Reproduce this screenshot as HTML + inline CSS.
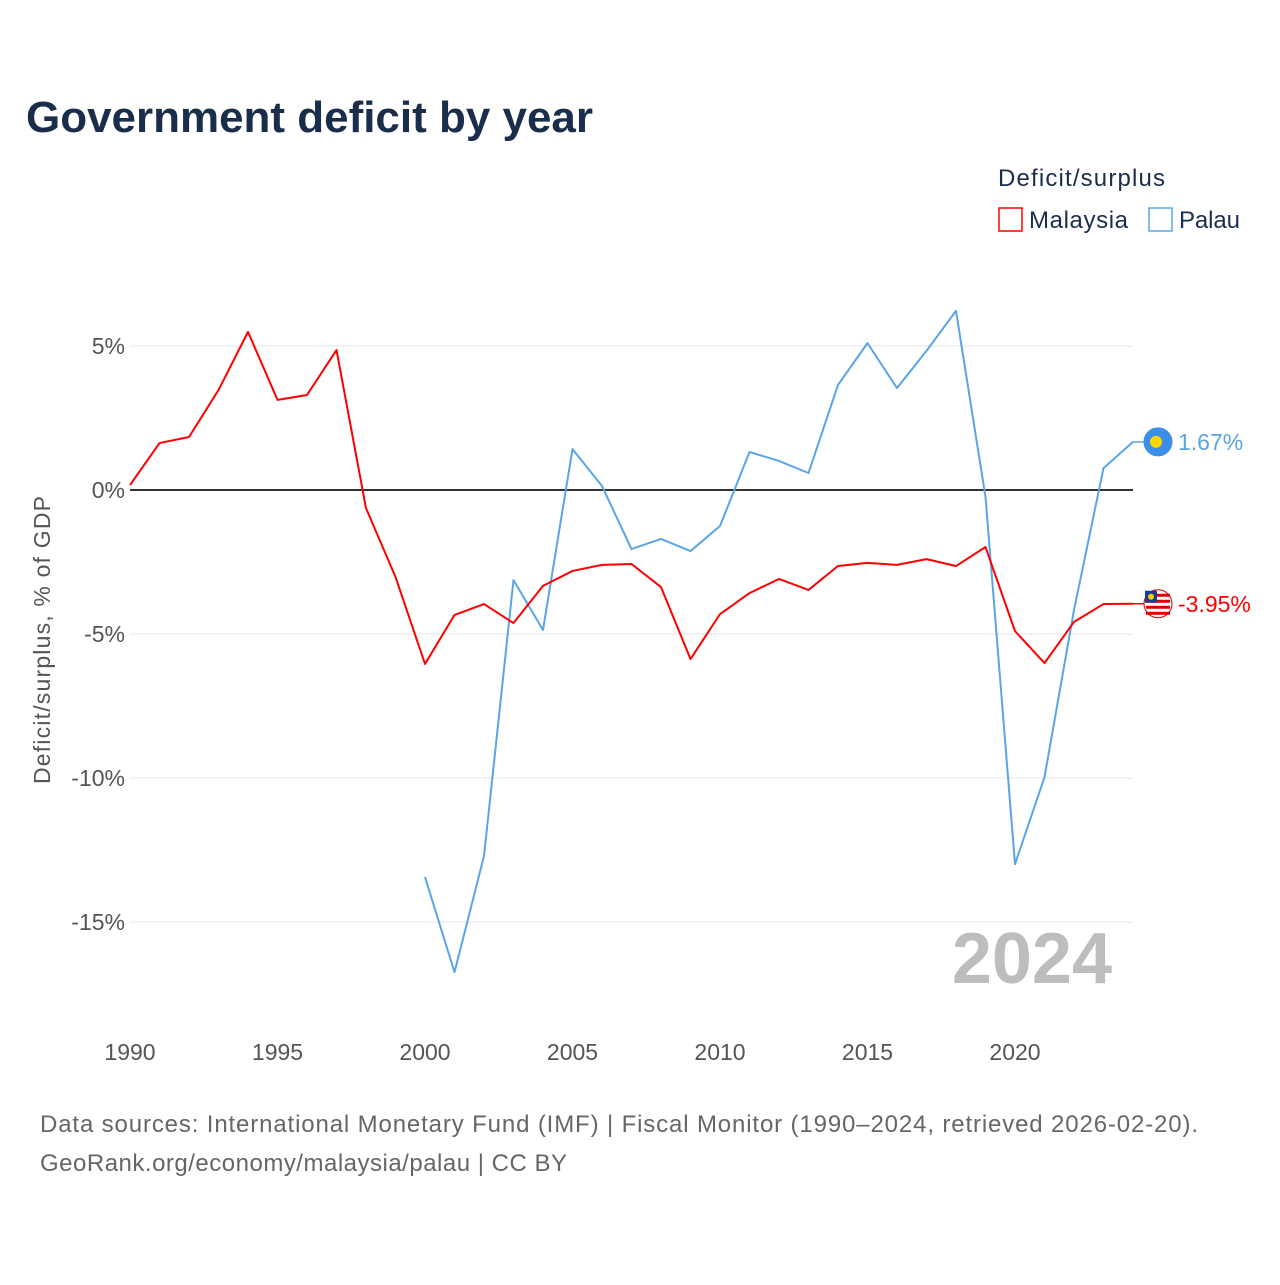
<!DOCTYPE html>
<html><head><meta charset="utf-8"><style>
body{margin:0;background:#fff;font-family:"Liberation Sans",sans-serif}
</style></head><body>
<svg id="c" width="1280" height="1280" xmlns="http://www.w3.org/2000/svg" font-family="Liberation Sans, sans-serif">
<text x="26" y="132" font-size="44" font-weight="bold" fill="#1a2e4c" textLength="567">Government deficit by year</text>
<text x="998" y="186" font-size="24" fill="#1a2e4c" textLength="167">Deficit/surplus</text>
<g><rect x="999" y="208" width="23" height="23" fill="none" stroke="#ff0000" stroke-width="1.5"/><text x="1029" y="228" font-size="24" fill="#1a2e4c" textLength="99">Malaysia</text></g>
<g><rect x="1149" y="208" width="23" height="23" fill="none" stroke="#5aa5e8" stroke-width="1.5"/><text x="1179" y="228" font-size="24" fill="#1a2e4c" textLength="61">Palau</text></g>
<g id="grid"></g><g id="ticks"></g>
<text x="1112" y="983" text-anchor="end" font-size="72" font-weight="bold" fill="#bdbdbd">2024</text>
<text transform="translate(50,640) rotate(-90)" text-anchor="middle" font-size="23" fill="#555" textLength="288">Deficit/surplus, % of GDP</text>
<g id="lines"></g>
<text x="40" y="1132" font-size="24" fill="#666" textLength="1158">Data sources: International Monetary Fund (IMF) | Fiscal Monitor (1990–2024, retrieved 2026-02-20).</text>
<text x="40" y="1171" font-size="24" fill="#666" textLength="527">GeoRank.org/economy/malaysia/palau | CC BY</text>
</svg>
<script>
const years=[];for(let y=1990;y<=2024;y++)years.push(y);
const malaysia=[0.17,1.63,1.84,3.47,5.49,3.13,3.30,4.86,-0.63,-3.02,-6.04,-4.34,-3.96,-4.62,-3.33,-2.81,-2.60,-2.57,-3.37,-5.87,-4.31,-3.58,-3.09,-3.47,-2.64,-2.53,-2.60,-2.40,-2.64,-1.98,-4.90,-6.01,-4.58,-3.96,-3.95];
const palauYears=[2000,2001,2002,2003,2004,2005,2006,2007,2008,2009,2010,2011,2012,2013,2014,2015,2016,2017,2018,2019,2020,2021,2022,2023,2024];
const palau=[-13.44,-16.74,-12.71,-3.13,-4.86,1.42,0.14,-2.05,-1.70,-2.12,-1.25,1.32,1.01,0.59,3.65,5.10,3.54,4.83,6.22,-0.24,-12.99,-9.97,-4.17,0.76,1.67];
const yTicks=[5,0,-5,-10,-15];
const xTicks=[1990,1995,2000,2005,2010,2015,2020];
const X=y=>130+(y-1990)*29.5, Y=v=>490-v*28.8;
const NS='http://www.w3.org/2000/svg';
function mk(t,a,p){const e=document.createElementNS(NS,t);for(const k in a)e.setAttribute(k,a[k]);p.appendChild(e);return e;}
const g=document.getElementById('grid'),tk=document.getElementById('ticks'),L=document.getElementById('lines');
yTicks.forEach(v=>{
 const l=mk('line',{x1:130,x2:1133,y1:Y(v),y2:Y(v),stroke:v===0?'#333':'#e6e6e6','stroke-width':v===0?2:1},g);
 
 
 const t=mk('text',{x:125,y:Y(v)+8,'text-anchor':'end','font-size':23,fill:'#555'},tk);t.textContent=v+'%';
 
 
});
xTicks.forEach(v=>{
 const t=mk('text',{x:X(v),y:1060,'text-anchor':'middle','font-size':23,fill:'#555'},tk);t.textContent=v;
 
 
});
function line(xs,vs,col,name,label){
 const p=mk('polyline',{points:xs.map((x,i)=>X(x)+','+Y(vs[i])).join(' '),fill:'none',stroke:col,'stroke-width':2,'stroke-linejoin':'round'},L);
 
 
 const lx=X(xs[xs.length-1]),ly=Y(vs[vs.length-1]);
 mk('line',{x1:lx,x2:lx+14,y1:ly,y2:ly,stroke:col,'stroke-width':1.5},L);
 const c=mk('circle',{cx:lx+25,cy:ly,r:14,fill:col==='#ff0000'?'#fff':'#3d8ee8',stroke:col==='#ff0000'?'#c00':'#3d8ee8'},L);
 
 
 if(col==='#ff0000'){for(let i=0;i<4;i++)mk('rect',{x:lx+13,y:ly-10+i*6,width:24,height:3,fill:'#d00'},L);mk('rect',{x:lx+12,y:ly-13,width:12,height:12,fill:'#1a3c8c'},L);mk('circle',{cx:lx+18,cy:ly-7,r:3,fill:'#fc0'},L);}
 else mk('circle',{cx:lx+23,cy:ly,r:6,fill:'#ffd700'},L);
 const t=mk('text',{x:lx+45,y:ly+8,'font-size':23,fill:col},L);t.textContent=label(vs[vs.length-1]);
 
 
}
line(palauYears,palau,'#5aa5e8','palau-line',v=>v.toFixed(2)+'%');
line(years,malaysia,'#ff0000','malaysia-line',v=>v.toFixed(2)+'%');
</script>
</body></html>
